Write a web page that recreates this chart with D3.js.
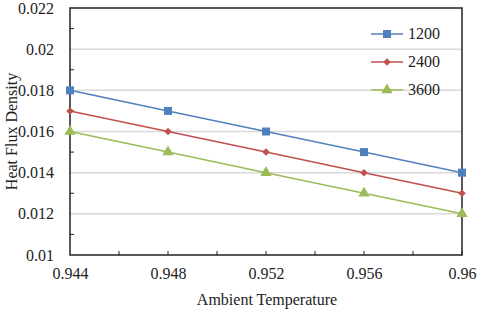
<!DOCTYPE html>
<html>
<head>
<meta charset="utf-8">
<script src="https://cdn.jsdelivr.net/npm/d3@7"></script>
<style>
  body { margin: 0; background: #fff; }
</style>
</head>
<body>
<div id="chart"></div>
<script>
// data
const temps = [0.944, 0.948, 0.952, 0.956, 0.96];
const seriesNames = [`1200`, `2400`, `3600`];
const flux1200 = [0.018, 0.017, 0.016, 0.015, 0.014];
const flux2400 = [0.017, 0.016, 0.015, 0.014, 0.013];
const flux3600 = [0.016, 0.015, 0.014, 0.013, 0.012];
const yTicks = [0.01, 0.012, 0.014, 0.016, 0.018, 0.02, 0.022];
const xTicks = [0.944, 0.948, 0.952, 0.956, 0.96];

const colors = [`#4F81BD`, `#C0504D`, `#9BBB59`];
const symbols = [d3.symbolSquare, d3.symbolDiamond2, d3.symbolTriangle];
const symSizes = [64, 36, 56];
const allSeries = [flux1200, flux2400, flux3600];

const FONT = `Liberation Serif`;
const W = 480, H = 312;
const plot = {left: 70, right: 462, top: 8, bottom: 255};

let svg = d3.select(`#chart`).append(`svg`)
  .attr(`width`, W).attr(`height`, H)
  .attr(`font-family`, FONT);

let x = d3.scaleLinear().domain([0.944, 0.96]).range([plot.left, plot.right]);
let y = d3.scaleLinear().domain([0.01, 0.022]).range([plot.bottom, plot.top]);

// horizontal gridlines
svg.append(`g`).selectAll(`line`)
  .data(yTicks.slice(1, -1))
  .join(`line`)
  .attr(`x1`, plot.left).attr(`x2`, plot.right)
  .attr(`y1`, d => y(d)).attr(`y2`, d => y(d))
  .attr(`stroke`, `#d9d9d9`).attr(`stroke-width`, 1.5);

// minor ticks pointing inward
let minorY = d3.range(0.011, 0.022, 0.002);
svg.append(`g`).selectAll(`line`)
  .data(minorY)
  .join(`line`)
  .attr(`x1`, plot.left).attr(`x2`, plot.left + 4)
  .attr(`y1`, d => y(d)).attr(`y2`, d => y(d))
  .attr(`stroke`, `#222`).attr(`stroke-width`, 1);

let minorX = d3.range(0.946, 0.96, 0.002);
svg.append(`g`).selectAll(`line`)
  .data(minorX)
  .join(`line`)
  .attr(`x1`, d => x(d)).attr(`x2`, d => x(d))
  .attr(`y1`, plot.bottom).attr(`y2`, plot.bottom - 4)
  .attr(`stroke`, `#222`).attr(`stroke-width`, 1);

// tick labels
let yAxis = d3.axisLeft(y).tickValues(yTicks).tickSize(0).tickPadding(16)
  .tickFormat(d => +d.toFixed(3));
svg.append(`g`)
  .attr(`transform`, `translate(${plot.left},0)`)
  .call(yAxis)
  .attr(`font-family`, FONT).attr(`font-size`, 16)
  .call(g => g.select(`.domain`).remove())
  .selectAll(`text`).attr(`fill`, `#222`);

let xAxis = d3.axisBottom(x).tickValues(xTicks).tickSize(0).tickPadding(13)
  .tickFormat(d => +d.toFixed(3));
svg.append(`g`)
  .attr(`transform`, `translate(0,${plot.bottom})`)
  .call(xAxis)
  .attr(`font-family`, FONT).attr(`font-size`, 16)
  .call(g => g.select(`.domain`).remove())
  .selectAll(`text`).attr(`fill`, `#222`);

// plot frame
svg.append(`rect`)
  .attr(`x`, plot.left).attr(`y`, plot.top)
  .attr(`width`, plot.right - plot.left).attr(`height`, plot.bottom - plot.top)
  .attr(`fill`, `none`).attr(`stroke`, `#222`).attr(`stroke-width`, 1.5);

// axis titles
svg.append(`text`)
  .attr(`x`, 267).attr(`y`, 305)
  .attr(`text-anchor`, `middle`).attr(`font-size`, 16).attr(`fill`, `#222`)
  .text(`Ambient Temperature`);

svg.append(`text`)
  .attr(`transform`, `translate(17,${(plot.top + plot.bottom) / 2}) rotate(-90)`)
  .attr(`text-anchor`, `middle`).attr(`font-size`, 16).attr(`fill`, `#222`)
  .text(`Heat Flux Density`);

// series lines and markers
let line = d3.line().x((d, i) => x(temps[i])).y(d => y(d));
allSeries.forEach((vals, s) => {
  svg.append(`path`)
    .attr(`d`, line(vals))
    .attr(`fill`, `none`).attr(`stroke`, colors[s]).attr(`stroke-width`, 1.5);
  svg.append(`g`).selectAll(`path`)
    .data(vals)
    .join(`path`)
    .attr(`transform`, (d, i) => `translate(${x(temps[i])},${y(d)})`)
    .attr(`d`, d3.symbol().type(symbols[s]).size(symSizes[s]))
    .attr(`fill`, colors[s]);
});

// legend
let legend = svg.append(`g`).attr(`transform`, `translate(371,34)`);
seriesNames.forEach((name, s) => {
  let row = legend.append(`g`).attr(`transform`, `translate(0,${s * 28})`);
  row.append(`line`).attr(`x1`, 0).attr(`x2`, 32)
    .attr(`stroke`, colors[s]).attr(`stroke-width`, 1.5);
  row.append(`path`)
    .attr(`transform`, `translate(16,0)`)
    .attr(`d`, d3.symbol().type(symbols[s]).size(symSizes[s]))
    .attr(`fill`, colors[s]);
  row.append(`text`).attr(`x`, 37).attr(`y`, 5)
    .attr(`font-size`, 16).attr(`fill`, `#222`).text(name);
});
</script>
</body>
</html>
